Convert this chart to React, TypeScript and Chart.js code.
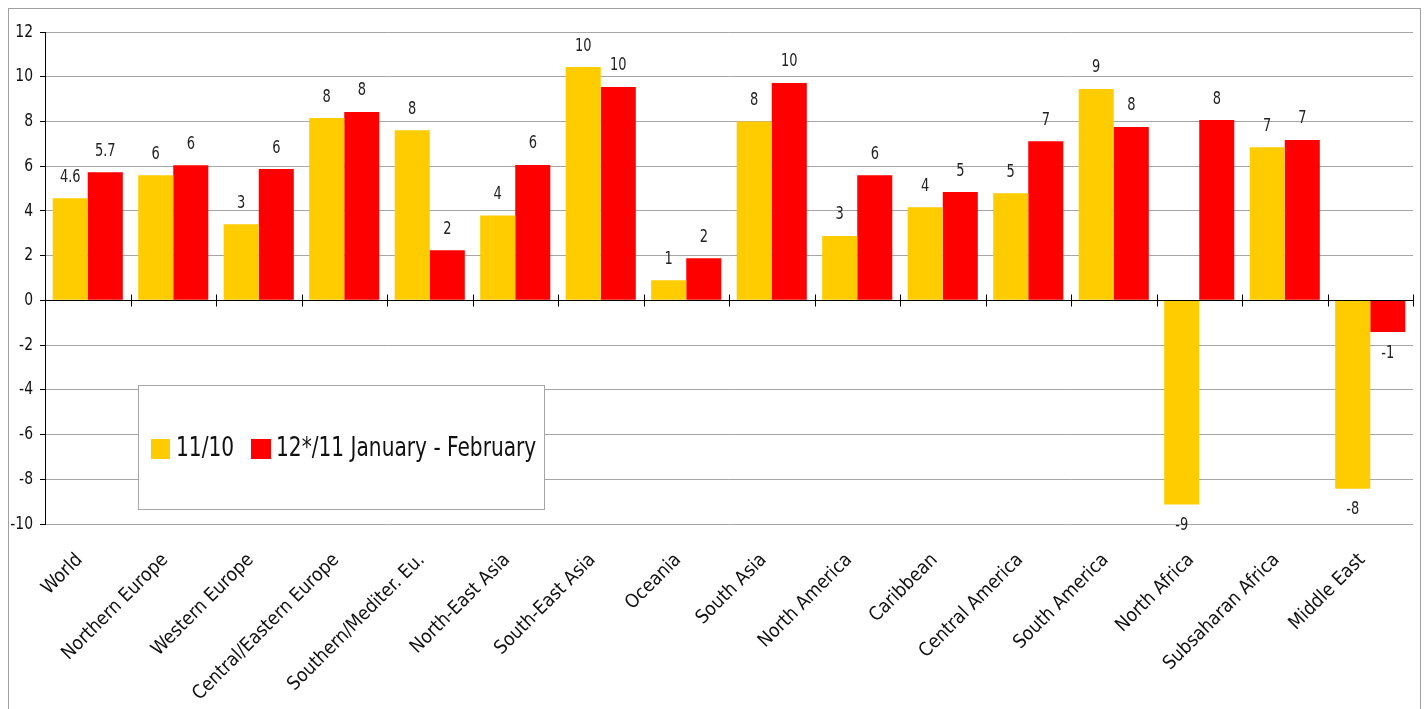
import React, { useEffect, useRef } from 'react';
import { Chart, registerables } from 'chart.js';

Chart.register(...registerables);

const categories = [
  'World',
  'Northern Europe',
  'Western Europe',
  'Central/Eastern Europe',
  'Southern/Mediter. Eu.',
  'North-East Asia',
  'South-East Asia',
  'Oceania',
  'South Asia',
  'North America',
  'Caribbean',
  'Central America',
  'South America',
  'North Africa',
  'Subsaharan Africa',
  'Middle East',
];

const seriesALabel = '11/10';
const seriesBLabel = '12*/11 January - February';

const seriesA = [4.57, 5.6, 3.4, 8.15, 7.61, 3.8, 10.43, 0.9, 8.0, 2.88, 4.16, 4.79, 9.45, -9.13, 6.85, -8.42];
const seriesB = [5.73, 6.04, 5.87, 8.42, 2.24, 6.05, 9.54, 1.88, 9.72, 5.6, 4.84, 7.12, 7.75, 8.06, 7.17, -1.42];

const yMin = -10;
const yMax = 12;
const yStep = 2;

const FONT = '"Liberation Sans Narrow", "DejaVu Sans Condensed", "Arial Narrow", sans-serif';
const YELLOW = '#FFCC00';
const RED = '#FF0000';
const GRID = '#a6a6a6';
const TEXT = '#111';

const fmt = (v: number, i: number) => (i === 0 ? v.toFixed(1) : String(Math.round(v)));

// draw text horizontally condensed (reference uses a narrow typeface)
function narrowText(ctx: any, text: string, x: number, y: number, sx: number) {
  ctx.save();
  ctx.translate(x, y);
  ctx.scale(sx, 1);
  ctx.fillText(text, 0, 0);
  ctx.restore();
}

const framePlugin = {
  id: 'frame',
  beforeDraw(chart: any) {
    const ctx = chart.ctx;
    ctx.save();
    ctx.fillStyle = '#fff';
    ctx.fillRect(0, 0, chart.width, chart.height);
    ctx.strokeStyle = '#a0a0a0';
    ctx.lineWidth = 1;
    ctx.strokeRect(8.5, 8.5, 1412, 800);
    ctx.restore();
  },
};

const yLabelPlugin = {
  id: 'yLabels',
  afterDraw(chart: any) {
    const ctx = chart.ctx;
    const y = chart.scales.y;
    ctx.save();
    ctx.font = `18px ${FONT}`;
    ctx.fillStyle = TEXT;
    ctx.textAlign = 'right';
    ctx.textBaseline = 'middle';
    y.ticks.forEach((t: any) => {
      narrowText(ctx, String(t.value), chart.chartArea.left - 12, y.getPixelForValue(t.value), 0.86);
    });
    ctx.restore();
  },
};

const axisPlugin = {
  id: 'zeroAxis',
  afterDatasetsDraw(chart: any) {
    const ctx = chart.ctx;
    const y = chart.scales.y;
    const y0 = Math.round(y.getPixelForValue(0)) + 0.5;
    const left = chart.chartArea.left;
    const right = chart.chartArea.right;
    ctx.save();
    ctx.strokeStyle = '#000';
    ctx.lineWidth = 1;
    ctx.beginPath();
    ctx.moveTo(left, y0);
    ctx.lineTo(right, y0);
    const n = categories.length;
    const w = (right - left) / n;
    for (let k = 1; k <= n; k++) {
      const px = Math.round(left + k * w) + 0.5;
      ctx.moveTo(px, y0 - 6);
      ctx.lineTo(px, y0 + 6);
    }
    ctx.stroke();
    ctx.restore();
  },
};

const labelPlugin = {
  id: 'valueLabels',
  afterDatasetsDraw(chart: any) {
    const ctx = chart.ctx;
    ctx.save();
    ctx.font = `17px ${FONT}`;
    ctx.fillStyle = '#222';
    ctx.textAlign = 'center';
    ctx.textBaseline = 'middle';
    chart.data.datasets.forEach((ds: any, di: number) => {
      const meta = chart.getDatasetMeta(di);
      meta.data.forEach((bar: any, i: number) => {
        const v = ds.data[i] as number;
        const ty = v >= 0 ? bar.y - 21 : bar.y + 21;
        narrowText(ctx, fmt(v, i), bar.x, ty, 0.85);
      });
    });
    ctx.restore();
  },
};

const legendPlugin = {
  id: 'boxLegend',
  afterDraw(chart: any) {
    const ctx = chart.ctx;
    ctx.save();
    ctx.fillStyle = '#fff';
    ctx.fillRect(138, 385, 407, 125);
    ctx.strokeStyle = '#a6a6a6';
    ctx.lineWidth = 1;
    ctx.strokeRect(138.5, 385.5, 406, 124);
    const ds = chart.data.datasets;
    ctx.font = `27px ${FONT}`;
    ctx.textBaseline = 'middle';
    ctx.textAlign = 'left';
    ctx.fillStyle = ds[0].backgroundColor;
    ctx.fillRect(151, 439, 19, 20);
    ctx.fillStyle = TEXT;
    narrowText(ctx, ds[0].label, 176, 449, 0.83);
    ctx.fillStyle = ds[1].backgroundColor;
    ctx.fillRect(251, 439, 20, 20);
    ctx.fillStyle = TEXT;
    narrowText(ctx, ds[1].label, 276, 449, 0.83);
    ctx.restore();
  },
};

export default function App() {
  const ref = useRef<HTMLCanvasElement | null>(null);

  useEffect(() => {
    if (!ref.current) return;
    const chart = new Chart(ref.current, {
      type: 'bar',
      data: {
        labels: categories,
        datasets: [
          {
            label: seriesALabel,
            data: seriesA,
            backgroundColor: YELLOW,
            borderWidth: 0,
            categoryPercentage: 0.82,
            barPercentage: 1.0,
          },
          {
            label: seriesBLabel,
            data: seriesB,
            backgroundColor: RED,
            borderWidth: 0,
            categoryPercentage: 0.82,
            barPercentage: 1.0,
          },
        ],
      },
      options: {
        responsive: false,
        animation: false,
        devicePixelRatio: 1,
        layout: { padding: { left: 0, right: 13, top: 32, bottom: 0 } },
        plugins: {
          legend: { display: false },
          tooltip: { enabled: false },
        },
        scales: {
          x: {
            grid: { display: false },
            border: { display: false },
            ticks: {
              minRotation: 45,
              maxRotation: 45,
              autoSkip: false,
              color: TEXT,
              padding: 17,
              labelOffset: -8,
              font: { family: FONT, size: 19 },
            },
            afterFit: (s: any) => {
              s.height = 185;
            },
          },
          y: {
            min: yMin,
            max: yMax,
            ticks: {
              stepSize: yStep,
              display: false,
            },
            grid: {
              color: (c: any) => (c.tick && c.tick.value === 0 ? 'rgba(0,0,0,0)' : GRID),
              tickColor: '#000',
              tickLength: 5,
              lineWidth: 1,
            },
            border: { display: true, color: '#000', width: 1 },
            afterFit: (s: any) => {
              s.width = 45;
            },
          },
        },
      },
      plugins: [framePlugin, axisPlugin, labelPlugin, yLabelPlugin, legendPlugin],
    } as any);
    return () => chart.destroy();
  }, []);

  return (
    <canvas
      ref={ref}
      width={1426}
      height={709}
      style={{ position: 'fixed', left: 0, top: 0, width: 1426, height: 709 }}
    />
  );
}
